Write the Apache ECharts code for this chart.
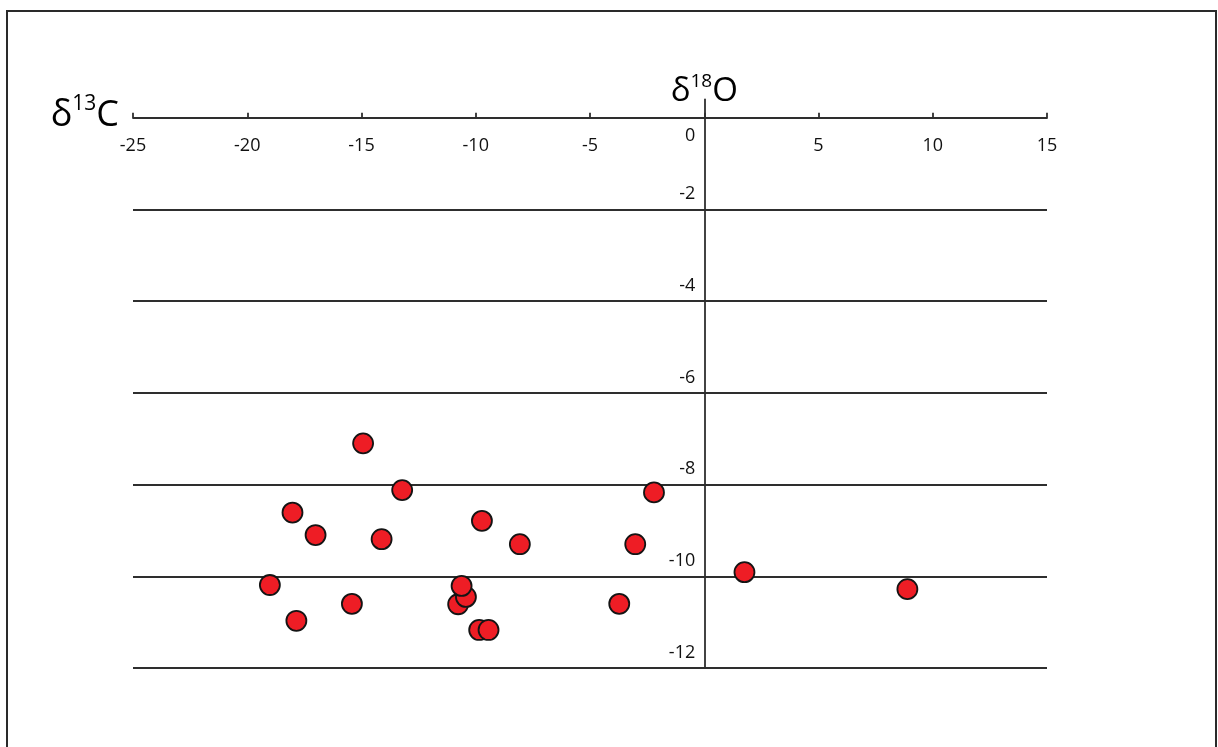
<!DOCTYPE html>
<html>
<head>
<meta charset="utf-8">
<title>δ13C / δ18O</title>
<script src="https://cdn.jsdelivr.net/npm/echarts@6/dist/echarts.min.js"></script>
<style>
  html, body { margin: 0; padding: 0; background: #fff; }
  #chart { width: 1218px; height: 747px; }
  #frame {
    position: absolute; left: 6px; top: 10px; width: 1211px; height: 760px;
    border: 2px solid #2a2a2a; pointer-events: none; box-sizing: border-box;
  }
</style>
</head>
<body>
<div id="chart"></div>
<div id="frame"></div>
<script>
// Isotope measurements: δ18O (x) and δ13C (y), per mil
const d18O = [-14.93, -13.22, -18.02, -17.01, -14.12, -9.73, -8.07, -3.02, -2.20, 1.76,
              8.89, -19.01, -17.85, -15.42, -10.77, -10.43, -10.62, -9.85, -9.44, -3.72];
const d13C = [-7.10, -8.12, -8.61, -9.10, -9.19, -8.79, -9.30, -9.30, -8.17, -9.91,
              -10.28, -10.19, -10.97, -10.60, -10.61, -10.45, -10.21, -11.17, -11.17, -10.60];

// Axis ranges and tick steps
const xRange = [-25, 15];
const xStep = 5;
const yRange = [-12, 0.4];
const yStep = 2;

const points = d18O.map((x, i) => [x, d13C[i]]);

const FONT = 'Open Sans';
const LINE = '#2e2e2e';
const LW = 1.8;
const GRID = { left: 133, right: 171, top: 99.5, bottom: 79 };

const chart = echarts.init(document.getElementById('chart'), null, { renderer: 'canvas' });
chart.setOption({
  animation: false,
  backgroundColor: '#ffffff',
  grid: Object.assign({ containLabel: false }, GRID),
  xAxis: {
    type: 'value',
    min: xRange[0], max: xRange[1], interval: xStep,
    position: 'top',
    offset: 0,
    name: '{d|δ}{s|13}{d|C}',
    nameLocation: 'start',
    nameGap: 14,
    nameTextStyle: {
      color: '#000', fontFamily: FONT, padding: [0, 0, 8, 0],
      rich: {
        d: { fontSize: 36, fontFamily: FONT, color: '#000', lineHeight: 40, verticalAlign: 'bottom' },
        s: { fontSize: 21, fontFamily: FONT, color: '#000', lineHeight: 40, verticalAlign: 'top', padding: [0, 0, 14, 0] }
      }
    },
    axisLine: { show: true, onZero: false, lineStyle: { color: LINE, width: LW } },
    axisTick: { show: true, inside: false, length: 5, lineStyle: { color: LINE, width: LW } },
    axisLabel: {
      inside: true, margin: 19, fontSize: 18, fontFamily: FONT, color: '#111',
      // the origin is labelled on the vertical axis only
      formatter: function (v) { return v === 0 ? '' : String(v); }
    },
    splitLine: { show: false }
  },
  yAxis: {
    type: 'value',
    min: yRange[0], max: yRange[1], interval: yStep,
    position: 'left',
    offset: 0,
    name: '{d|δ}{s|18}{d|O}',
    nameLocation: 'end',
    nameGap: -9,
    nameTextStyle: {
      color: '#000', fontFamily: FONT, align: 'center',
      rich: {
        d: { fontSize: 33, fontFamily: FONT, color: '#000', lineHeight: 36, verticalAlign: 'bottom' },
        s: { fontSize: 19, fontFamily: FONT, color: '#000', lineHeight: 36, verticalAlign: 'top', padding: [0, 0, 12, 0] }
      }
    },
    axisLine: { show: true, onZero: false, lineStyle: { color: LINE, width: LW } },
    axisTick: { show: false },
    axisLabel: {
      margin: 9, fontSize: 18, fontFamily: FONT, color: '#111',
      showMaxLabel: false,
      formatter: function (v) {
        if (v > 0) return '';
        return v === 0 ? '{dn|0}' : '{up|' + v + '}';
      },
      rich: {
        up: { fontSize: 18, fontFamily: FONT, color: '#111', padding: [0, 0, 31, 0] },
        dn: { fontSize: 18, fontFamily: FONT, color: '#111', padding: [36, 0, 0, 0] }
      }
    },
    splitLine: { show: true, showMaxLine: false, lineStyle: { color: LINE, width: LW } }
  },
  series: [{
    type: 'scatter',
    data: points,
    symbol: 'circle',
    symbolSize: 20,
    itemStyle: { color: '#EE1D25', borderColor: '#141414', borderWidth: 1.8, opacity: 1 },
    emphasis: { disabled: true },
    z: 5
  }]
});

// Move both axes (with their labels) so they cross at the origin of the data scales.
const origin = chart.convertToPixel({ gridIndex: 0 }, [0, 0]);
chart.setOption({
  xAxis: { offset: -(origin[1] - GRID.top) },
  yAxis: { offset: -(origin[0] - GRID.left) }
});
</script>
</body>
</html>
